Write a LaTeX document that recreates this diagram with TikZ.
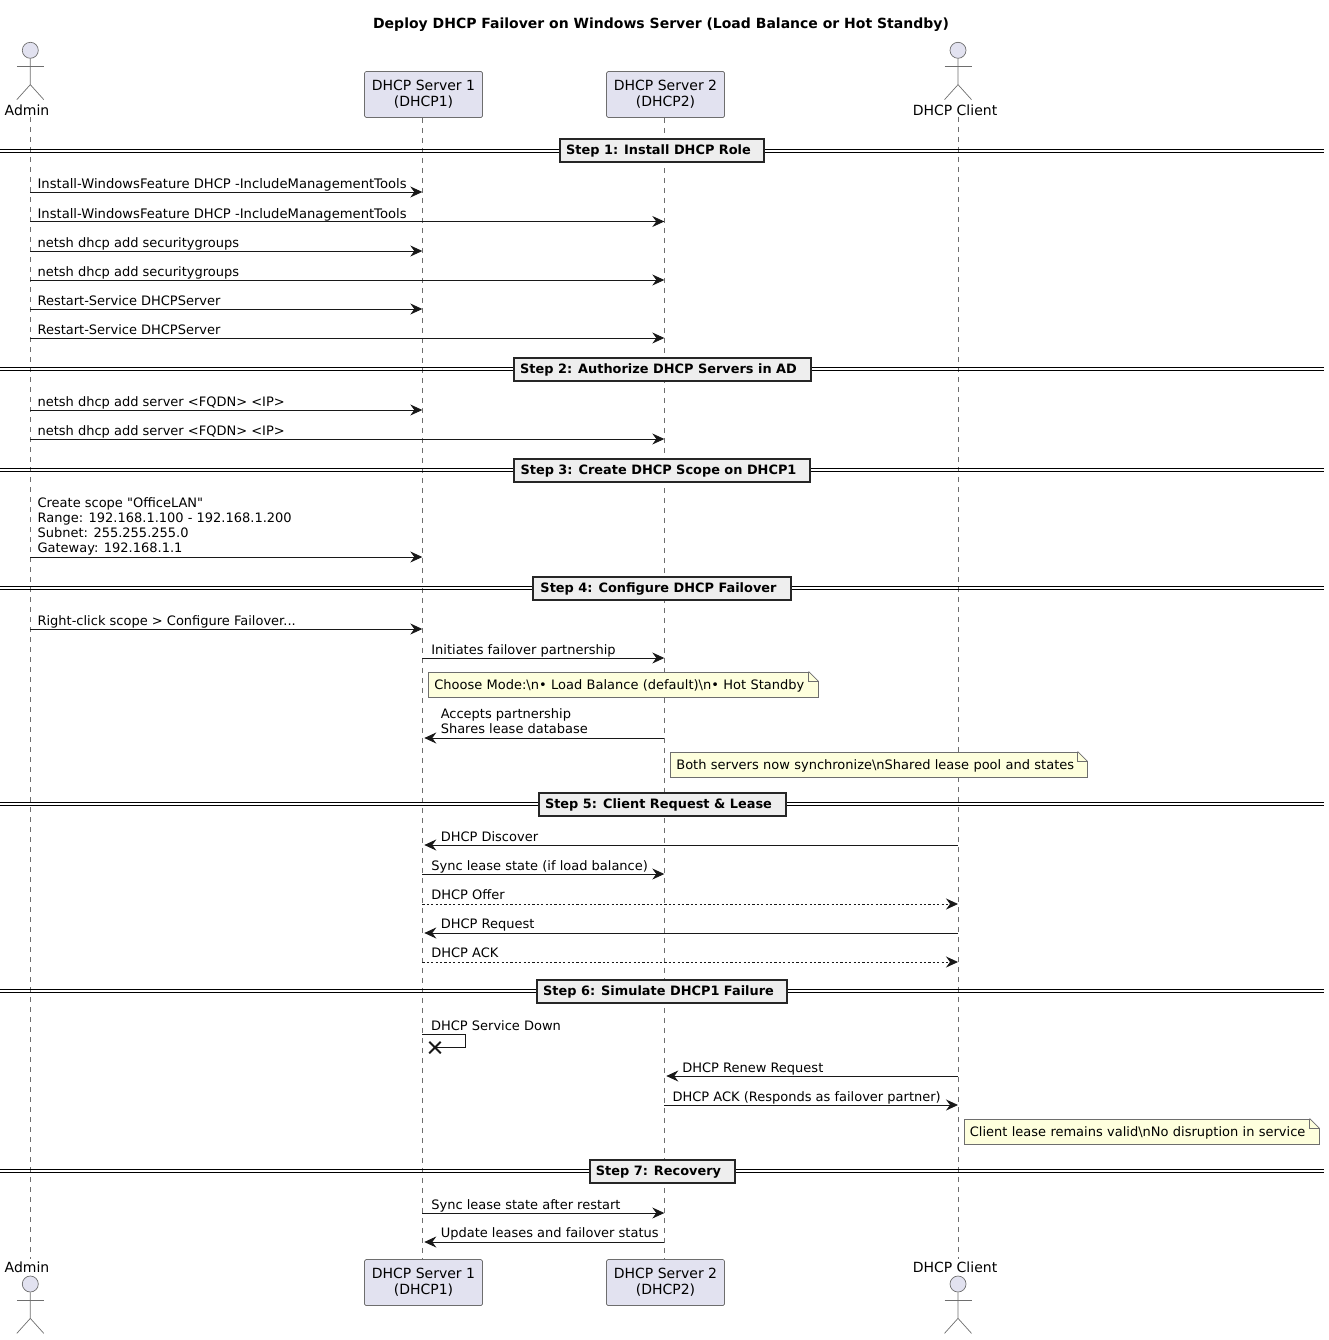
\documentclass[tikz,border=0pt]{standalone}
\usepackage{fontspec}
\setmainfont{DejaVu Sans}[Ligatures=TeXOff]
\usetikzlibrary{arrows.meta, shapes.misc}
\definecolor{lineblack}{HTML}{181818}
\definecolor{partgray}{HTML}{6E6E6E}
\definecolor{partfill}{HTML}{E2E2F0}
\definecolor{notefill}{HTML}{FEFFDD}
\definecolor{stepfill}{HTML}{EEEEEE}
\tikzstyle{part} = [rectangle, rounded corners=1.5pt, minimum width=118pt, minimum height=46pt, align=center, draw=partgray, fill=partfill, line width=0.7pt, inner sep=0pt, font=\fontsize{14}{16.2}\selectfont]
\tikzstyle{head} = [circle, minimum size=16pt, inner sep=0pt, draw=partgray, fill=partfill, line width=0.7pt]
\tikzstyle{limb} = [draw=partgray, line width=0.7pt]
\tikzstyle{who} = [inner sep=0pt, font=\fontsize{14}{16.2}\selectfont]
\tikzstyle{lifeline} = [draw=partgray, line width=0.6pt, dash pattern=on 5pt off 5pt]
\tikzstyle{arrow} = [draw=lineblack, line width=0.9pt, -{Stealth[length=12pt,width=11pt,inset=4pt]}]
\tikzstyle{back} = [arrow, shorten >=2pt]
\tikzstyle{reply} = [arrow, dash pattern=on 2.2pt off 2.2pt]
\tikzstyle{say} = [anchor=south west, inner sep=0pt, text depth=3pt, align=left, font=\fontsize{13}{15}\selectfont]
\tikzstyle{saywide} = [say, font=\fontsize{13.14}{15}\selectfont]
\tikzstyle{note} = [rectangle, minimum height=25pt, inner xsep=6pt, inner ysep=0pt, text height=10pt, text depth=0pt, align=left, draw=partgray, fill=notefill, line width=0.7pt, font=\fontsize{13}{15}\selectfont, anchor=north west]
\tikzstyle{stepline} = [draw=black, line width=1pt]
\tikzstyle{stepbox} = [rectangle, minimum height=23pt, inner sep=0pt, text height=10pt, text depth=2pt, draw=black!85, fill=stepfill, line width=2pt, font=\fontsize{12.9}{15}\selectfont\bfseries]
% stick figure hung under its head node
\newcommand{\actorfig}[1]{
    \draw [limb] (#1.south) -- ++(0,26) -- ++(-13.5,15) ++(13.5,-15) -- ++(13.5,15);
    \draw [limb] ([yshift=-8pt]#1.south) ++(-13.5,0) -- ++(27,0);
}
% separator with its caption box
\newcommand{\stepbar}[4]{
    \coordinate (#1l) at (0,#2);
    \coordinate (#1r) at (1324,#2);
    \draw [stepline] ([yshift=1.6pt]#1l) -- ([yshift=1.6pt]#1r);
    \draw [stepline] ([yshift=-1.6pt]#1l) -- ([yshift=-1.6pt]#1r);
    \node (#1) [stepbox, minimum width=#3pt] at (662,#2) {#4\hspace*{7pt}};
}
% dog-ear on a note node
\newcommand{\noteear}[1]{
    \fill [white] ([xshift=-10pt]#1.north east) -- ([xshift=1pt,yshift=1pt]#1.north east) -- ([yshift=-10pt]#1.north east) -- cycle;
    \draw [limb] ([xshift=-10pt]#1.north east) -- ([yshift=-10pt]#1.north east);
    \draw [limb] ([xshift=-10pt]#1.north east) |- ([yshift=-10pt]#1.north east);
}
\begin{document}
\begin{tikzpicture}[x=1pt,y=-1pt]
        \useasboundingbox (0,0) rectangle (1329,1340);
        \clip (0,0) rectangle (1329,1335);
        \node (title) [inner sep=0pt, font=\fontsize{14}{16}\selectfont\bfseries] at (661,24.5) {Deploy DHCP Failover on Windows Server (Load Balance or Hot Standby)};

        % top row
        \node (adminH) [head] at (30.3,50.3) {};
        \node (adminT) [who] at (27,110) {Admin};
        \node (srvA) [part] at (423.5,94.5) {DHCP Server 1\\(DHCP1)};
        \node (srvB) [part] at (665.5,94.5) {DHCP Server 2\\(DHCP2)};
        \node (clientH) [head] at (958,50.3) {};
        \node (clientT) [who] at (955,110) {DHCP Client};
        \actorfig{adminH}
        \actorfig{clientH}

        % bottom row
        \node (adminHb) [head] at (30.3,1284) {};
        \node (adminTb) [who] at (27,1267) {Admin};
        \node (srvAb) [part] at (423.5,1282.5) {DHCP Server 1\\(DHCP1)};
        \node (srvBb) [part] at (665.5,1282.5) {DHCP Server 2\\(DHCP2)};
        \node (clientHb) [head] at (958,1284) {};
        \node (clientTb) [who] at (955,1267) {DHCP Client};
        \actorfig{adminHb}
        \actorfig{clientHb}

        % lifelines
        \coordinate (admin) at (30.3,117);
        \coordinate (adminb) at (30.3,1259);
        \coordinate (one) at ([xshift=-1.2pt]srvA.south);
        \coordinate (oneb) at ([xshift=-1.2pt]srvAb.north);
        \coordinate (two) at ([xshift=-1.2pt]srvB.south);
        \coordinate (twob) at ([xshift=-1.2pt]srvBb.north);
        \coordinate (client) at (958,117);
        \coordinate (clientb) at (958,1259);
        \draw [lifeline] (admin) -- (adminb);
        \draw [lifeline] (one) -- (oneb);
        \draw [lifeline] (two) -- (twob);
        \draw [lifeline] (client) -- (clientb);

        % separators
        \stepbar{stepA}{151}{204}{Step 1: Install DHCP Role}
        \stepbar{stepB}{369}{297}{Step 2: Authorize DHCP Servers in AD}
        \stepbar{stepC}{470}{296}{Step 3: Create DHCP Scope on DHCP1}
        \stepbar{stepD}{588}{258}{Step 4: Configure DHCP Failover}
        \stepbar{stepE}{804}{247}{Step 5: Client Request \& Lease}
        \stepbar{stepF}{991}{250}{Step 6: Simulate DHCP1 Failure}
        \stepbar{stepG}{1171}{145}{Step 7: Recovery}

        % step 1
        \coordinate (r1) at (0,192);
        \draw [arrow] (admin |- r1) -- (one |- r1) node [saywide, pos=0, xshift=6.8pt] {Install-WindowsFeature DHCP -IncludeManagementTools};
        \coordinate (r2) at (0,221.5);
        \draw [arrow] (admin |- r2) -- (two |- r2) node [saywide, pos=0, xshift=6.8pt] {Install-WindowsFeature DHCP -IncludeManagementTools};
        \coordinate (r3) at (0,251);
        \draw [arrow] (admin |- r3) -- (one |- r3) node [say, pos=0, xshift=6.8pt] {netsh dhcp add securitygroups};
        \coordinate (r4) at (0,280);
        \draw [arrow] (admin |- r4) -- (two |- r4) node [say, pos=0, xshift=6.8pt] {netsh dhcp add securitygroups};
        \coordinate (r5) at (0,309);
        \draw [arrow] (admin |- r5) -- (one |- r5) node [say, pos=0, xshift=6.8pt] {Restart-Service DHCPServer};
        \coordinate (r6) at (0,338);
        \draw [arrow] (admin |- r6) -- (two |- r6) node [say, pos=0, xshift=6.8pt] {Restart-Service DHCPServer};

        % step 2
        \coordinate (r7) at (0,410);
        \draw [arrow] (admin |- r7) -- (one |- r7) node [say, pos=0, xshift=6.8pt] {netsh dhcp add server <FQDN> <IP>};
        \coordinate (r8) at (0,439);
        \draw [arrow] (admin |- r8) -- (two |- r8) node [say, pos=0, xshift=6.8pt] {netsh dhcp add server <FQDN> <IP>};

        % step 3
        \coordinate (r9) at (0,557);
        \draw [arrow] (admin |- r9) -- (one |- r9) node [say, pos=0, xshift=6.8pt, yshift=0.7pt] {Create scope "OfficeLAN"\\Range: 192.168.1.100 - 192.168.1.200\\Subnet: 255.255.255.0\\Gateway: 192.168.1.1};

        % step 4
        \coordinate (r10) at (0,629);
        \draw [arrow] (admin |- r10) -- (one |- r10) node [say, pos=0, xshift=6.8pt] {Right-click scope > Configure Failover...};
        \coordinate (r11) at (0,658);
        \draw [arrow] (one |- r11) -- (two |- r11) node [say, pos=0, xshift=8.6pt] {Initiates failover partnership};
        \node (noteA) [note, text width=378pt] at (428,671.5) {Choose Mode:\textbackslash n• Load Balance (default)\textbackslash n• Hot Standby};
        \noteear{noteA}
        \coordinate (r12) at (0,738);
        \draw [back] (two |- r12) -- (one |- r12) node [say, pos=1, xshift=18pt, yshift=0.8pt] {Accepts partnership\\Shares lease database};
        \node (noteB) [note, text width=405pt] at (670,751.5) {Both servers now synchronize\textbackslash nShared lease pool and states};
        \noteear{noteB}

        % step 5
        \coordinate (r13) at (0,845);
        \draw [back] (client |- r13) -- (one |- r13) node [say, pos=1, xshift=18pt] {DHCP Discover};
        \coordinate (r14) at (0,874);
        \draw [arrow] (one |- r14) -- (two |- r14) node [say, pos=0, xshift=8.6pt] {Sync lease state (if load balance)};
        \coordinate (r15) at (0,904);
        \draw [reply] (one |- r15) -- (client |- r15) node [say, pos=0, xshift=8.6pt, yshift=1pt] {DHCP Offer};
        \coordinate (r16) at (0,933);
        \draw [back] (client |- r16) -- (one |- r16) node [say, pos=1, xshift=18pt, yshift=1pt] {DHCP Request};
        \coordinate (r17) at (0,962);
        \draw [reply] (one |- r17) -- (client |- r17) node [say, pos=0, xshift=8.6pt, yshift=1pt] {DHCP ACK};

        % step 6
        \coordinate (r18) at (0,1034.5);
        \node (down) [cross out, draw=lineblack, line width=2pt, minimum size=9.5pt, inner sep=0pt] at (435,1047.5) {};
        \coordinate (turn) at (465.5,1047.5);
        \draw [draw=lineblack, line width=0.9pt] (one |- r18) -| (turn) -- (down.center);
        \node (downsay) [say, xshift=8.6pt, yshift=0.8pt] at (one |- r18) {DHCP Service Down};
        \coordinate (r19) at (0,1076);
        \draw [back] (client |- r19) -- (two |- r19) node [say, pos=1, xshift=17.5pt] {DHCP Renew Request};
        \coordinate (r20) at (0,1105);
        \draw [arrow] (two |- r20) -- (client |- r20) node [say, pos=0, xshift=7.8pt] {DHCP ACK (Responds as failover partner)};
        \node (noteC) [note, text width=343.5pt] at (963.5,1118.5) {Client lease remains valid\textbackslash nNo disruption in service};
        \noteear{noteC}

        % step 7
        \coordinate (r21) at (0,1213);
        \draw [arrow] (one |- r21) -- (two |- r21) node [say, pos=0, xshift=8.6pt] {Sync lease state after restart};
        \coordinate (r22) at (0,1242);
        \draw [back] (two |- r22) -- (one |- r22) node [say, pos=1, xshift=18pt, yshift=0.8pt] {Update leases and failover status};
\end{tikzpicture}
\end{document}
